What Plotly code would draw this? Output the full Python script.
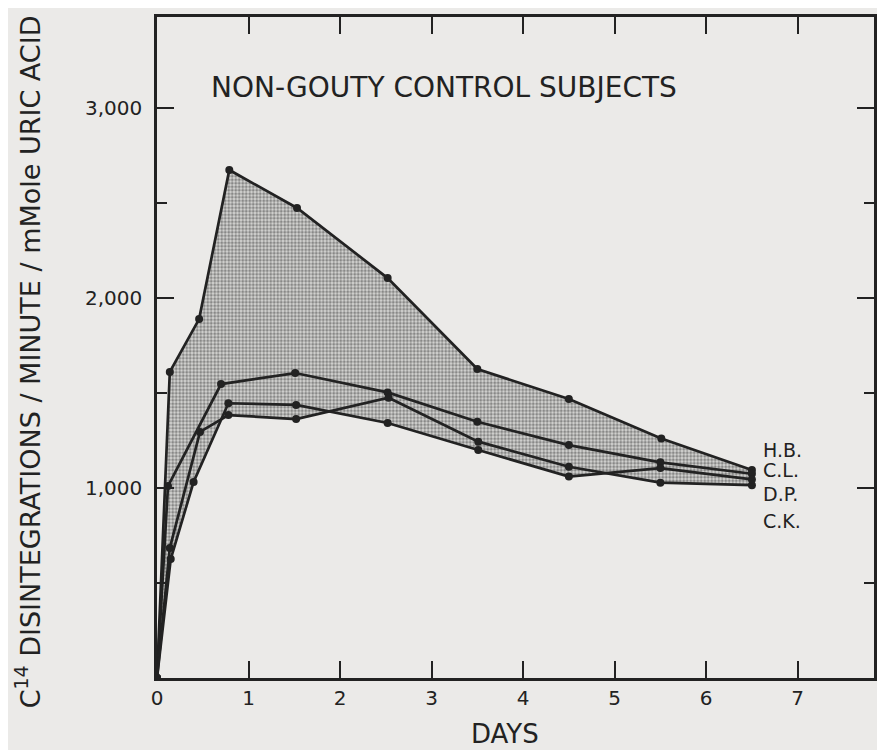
import numpy as np
import plotly.graph_objects as go

# ---- data ----
subjects = ["H.B.", "C.L.", "D.P.", "C.K."]

hb_days = [0, 0.14, 0.46, 0.79, 1.53, 2.52, 3.50, 4.50, 5.51, 6.50]
hb_dpm = [0, 1611, 1889, 2674, 2474, 2105, 1626, 1468, 1260, 1095]

cl_days = [0, 0.12, 0.70, 1.51, 2.52, 3.50, 4.50, 5.50, 6.50]
cl_dpm = [0, 1010, 1547, 1605, 1503, 1349, 1226, 1135, 1075]

dp_days = [0, 0.14, 0.47, 0.78, 1.52, 2.53, 3.51, 4.50, 5.50, 6.50]
dp_dpm = [0, 684, 1295, 1384, 1363, 1475, 1244, 1112, 1028, 1015]

ck_days = [0, 0.15, 0.40, 0.78, 1.52, 2.52, 3.51, 4.50, 5.50, 6.50]
ck_dpm = [0, 626, 1032, 1446, 1437, 1342, 1200, 1060, 1105, 1045]

x_tickvals = [0, 1, 2, 3, 4, 5, 6, 7]
x_ticktext = ["0", "1", "2", "3", "4", "5", "6", "7"]
y_tickvals = [1000, 2000, 3000]
y_ticktext = ["1,000", "2,000", "3,000"]
y_minor_vals = [500, 1500, 2500]

title_text = "NON-GOUTY CONTROL SUBJECTS"
x_title = "DAYS"
y_title = "C<sup>14</sup> DISINTEGRATIONS / MINUTE / mMole URIC ACID"

series = [(hb_days, hb_dpm), (cl_days, cl_dpm), (dp_days, dp_dpm), (ck_days, ck_dpm)]

# ---- shaded envelope (max .. min of all series) ----
grid = np.unique(np.concatenate([np.linspace(0, 6.5, 2000)] + [np.array(d) for d, _ in series]))
vals = np.vstack([np.interp(grid, d, v) for d, v in series])
upper = vals.max(axis=0)
lower = vals.min(axis=0)
poly_x = np.concatenate([grid, grid[::-1]])
poly_y = np.concatenate([upper, lower[::-1]])

INK = "#222222"
BG = "#ebeae8"
FONT = "DejaVu Sans"

fig = go.Figure()
fig.add_trace(go.Scatter(
    x=poly_x, y=poly_y, mode="lines", fill="toself",
    line=dict(width=0), fillcolor="rgba(0,0,0,0)",
    fillpattern=dict(shape=".", fgcolor="#3a3a3a", bgcolor="#d6d6d4", size=3.5, solidity=0.55),
    hoverinfo="skip", showlegend=False,
))
for name, (d, v) in zip(subjects, series):
    fig.add_trace(go.Scatter(
        x=d, y=v, mode="lines+markers", name=name,
        line=dict(color=INK, width=2.7),
        marker=dict(color=INK, size=8),
        showlegend=False,
    ))

# labels on the right
label_y = [1200, 1095, 968, 826]
for txt, ly in zip(subjects, label_y):
    fig.add_annotation(x=6.6, y=ly, xref="x", yref="y", text=txt, showarrow=False,
                       xanchor="left", yanchor="middle",
                       font=dict(family=FONT, size=19, color=INK))

fig.add_annotation(x=0.40, y=0.894, xref="paper", yref="paper", text=title_text,
                   showarrow=False, xanchor="center", yanchor="middle",
                   font=dict(family=FONT, size=28, color=INK))
fig.add_annotation(x=0.485, y=-0.085, xref="paper", yref="paper", text=x_title,
                   showarrow=False, xanchor="center", yanchor="middle",
                   font=dict(family=FONT, size=26, color=INK))
fig.add_annotation(x=-0.181, y=0.478, xref="paper", yref="paper", text=y_title,
                   showarrow=False, xanchor="center", yanchor="middle", textangle=-90,
                   font=dict(family=FONT, size=27, color=INK))

fig.update_xaxes(
    range=[0, 7.834], showline=True, linewidth=2.5, linecolor=INK, mirror="allticks",
    ticks="inside", ticklen=17, tickwidth=2, tickcolor=INK,
    tickvals=x_tickvals, ticktext=x_ticktext, showgrid=False, zeroline=False,
    tickfont=dict(family=FONT, size=20, color=INK),
)
fig.update_yaxes(
    range=[0, 3479], showline=True, linewidth=2.5, linecolor=INK, mirror="allticks",
    ticks="inside", ticklen=17, tickwidth=2, tickcolor=INK,
    tickvals=y_tickvals, ticktext=y_ticktext, showgrid=False, zeroline=False,
    minor=dict(tickvals=y_minor_vals, ticks="inside", ticklen=10, tickwidth=2, tickcolor=INK),
    ticklabelstandoff=8,
    tickfont=dict(family=FONT, size=20, color=INK),
)
# the page adds an 8 px body margin, so the figure is sized to the space left
fig.update_layout(
    width=869, height=742,
    margin=dict(l=149, r=0, t=9, b=72),
    paper_bgcolor=BG, plot_bgcolor=BG,
    showlegend=False,
)
fig.write_html("out.html")
